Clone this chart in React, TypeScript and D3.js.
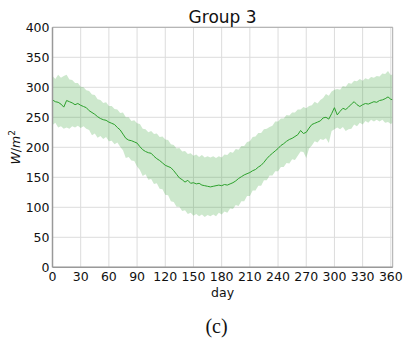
import React from "react";
import * as d3 from "d3";

const title = "Group 3";
const xTicks = [0, 30, 60, 90, 120, 150, 180, 210, 240, 270, 300, 330, 360];
const yTicks = [0, 50, 100, 150, 200, 250, 300, 350, 400];

// sampled every 3 days, starting at day 0
const step = 3;
const meanVals = [
  279, 276, 275, 272, 267, 278, 276, 274, 271, 273,
  270, 268, 266, 261, 258, 255, 251, 248, 246, 245,
  242, 240, 238, 233, 229, 222, 215, 212, 211, 209,
  207, 201, 196, 193, 191, 190, 185, 181, 178, 174,
  170, 168, 166, 161, 155, 149, 146, 142, 145, 140,
  141, 139, 140, 137, 136, 135, 134, 135, 136, 137,
  136, 138, 137, 139, 141, 144, 148, 151, 154, 156,
  158, 161, 163, 167, 170, 175, 181, 186, 190, 194,
  198, 203, 206, 210, 213, 215, 218, 221, 228, 223,
  225, 232, 238, 240, 242, 244, 249, 250, 247, 256,
  266, 254, 260, 265, 263, 267, 272, 276, 271, 268,
  271, 273, 272, 274, 276, 275, 278, 279, 281, 284,
  280, 279,
];
const upperVals = [
  319, 314, 321, 316, 319, 321, 313, 312, 307, 307,
  301, 300, 295, 294, 288, 287, 280, 279, 274, 275,
  269, 269, 264, 263, 257, 258, 250, 250, 244, 245,
  240, 239, 231, 230, 225, 227, 222, 223, 217, 218,
  213, 212, 205, 204, 198, 199, 193, 194, 189, 190,
  186, 188, 184, 187, 183, 185, 183, 185, 182, 185,
  183, 188, 187, 192, 191, 197, 196, 202, 202, 209,
  210, 217, 218, 224, 224, 230, 231, 234, 236, 243,
  243, 248, 248, 254, 253, 258, 258, 263, 263, 267,
  265, 269, 270, 276, 273, 279, 282, 289, 286, 293,
  296, 297, 296, 302, 301, 307, 306, 311, 310, 314,
  311, 315, 313, 317, 316, 319, 318, 323, 322, 327,
  320, 323,
];
const lowerVals = [
  237, 241, 233, 235, 231, 233, 231, 235, 233, 236,
  232, 235, 231, 229, 220, 223, 216, 219, 214, 217,
  210, 211, 205, 208, 201, 195, 182, 184, 178, 177,
  168, 162, 152, 155, 146, 147, 139, 140, 131, 130,
  121, 120, 110, 109, 101, 101, 94, 95, 89, 91,
  86, 89, 85, 88, 84, 87, 85, 88, 85, 91,
  88, 93, 91, 98, 97, 104, 102, 110, 110, 119,
  119, 128, 128, 136, 136, 145, 145, 153, 153, 160,
  160, 167, 167, 174, 173, 180, 179, 186, 193, 192,
  182, 198, 203, 210, 208, 214, 212, 215, 207, 227,
  230, 233, 230, 234, 227, 230, 231, 238, 235, 241,
  238, 244, 241, 246, 243, 246, 243, 246, 241, 242,
  239, 242,
];

const W = 403;
const H = 342;
const M = { left: 52.5, right: 392.7, top: 27.3, bottom: 267.3 };
const GREEN = "#2ca02c";
const FONT = "DejaVu Sans, sans-serif";

export default function App() {
  const x = d3.scaleLinear().domain([0, 362]).range([M.left, M.right]);
  const y = d3.scaleLinear().domain([0, 400]).range([M.bottom, M.top]);

  const rows = meanVals.map((m, i) => ({
    d: i * step,
    m,
    hi: upperVals[i],
    lo: lowerVals[i],
  }));

  const area = d3
    .area<any>()
    .x((r) => x(r.d))
    .y0((r) => y(r.lo))
    .y1((r) => y(r.hi));
  const line = d3
    .line<any>()
    .x((r) => x(r.d))
    .y((r) => y(r.m));

  return (
    <svg
      width={W}
      height={H}
      style={{ position: "absolute", left: 0, top: 0, background: "#fff" }}
      fontFamily={FONT}
    >
      <defs>
        <clipPath id="plotclip">
          <rect x={M.left} y={M.top} width={M.right - M.left} height={M.bottom - M.top} />
        </clipPath>
      </defs>
      {xTicks.map((t) => (
        <line key={"gx" + t} x1={x(t)} x2={x(t)} y1={M.top} y2={M.bottom} stroke="#dcdcdc" strokeWidth={1} />
      ))}
      {yTicks.map((t) => (
        <line key={"gy" + t} x1={M.left} x2={M.right} y1={y(t)} y2={y(t)} stroke="#dcdcdc" strokeWidth={1} />
      ))}
      <g clipPath="url(#plotclip)">
        <path d={area(rows) || ""} fill={GREEN} fillOpacity={0.24} stroke="none" />
        <path d={line(rows) || ""} fill="none" stroke={GREEN} strokeWidth={1} />
      </g>
      <line x1={M.left} x2={M.right} y1={M.top} y2={M.top} stroke="#aaa" strokeWidth={1} />
      <line x1={M.right} x2={M.right} y1={M.top} y2={M.bottom} stroke="#aaa" strokeWidth={1} />
      <line x1={M.left} x2={M.left} y1={M.top} y2={M.bottom} stroke="#999" strokeWidth={1.5} />
      <line x1={M.left} x2={M.right} y1={M.bottom} y2={M.bottom} stroke="#999" strokeWidth={1.5} />
      {yTicks.map((t) => (
        <text key={"ty" + t} x={M.left - 3} y={y(t)} dy="0.35em" textAnchor="end" fontSize={12.5} fill="#111">
          {t}
        </text>
      ))}
      {xTicks.map((t) => (
        <text key={"tx" + t} x={x(t)} y={M.bottom + 14} textAnchor="middle" fontSize={12.5} fill="#111">
          {t}
        </text>
      ))}
      <text x={(M.left + M.right) / 2} y={297} textAnchor="middle" fontSize={12.5} fill="#111">
        day
      </text>
      <text
        transform={`translate(20, ${(M.top + M.bottom) / 2}) rotate(-90)`}
        textAnchor="middle"
        fontSize={12.5}
        fill="#111"
      >
        <tspan fontStyle="italic">W</tspan>
        <tspan>/</tspan>
        <tspan fontStyle="italic">m</tspan>
        <tspan fontSize={9} dy={-5}>2</tspan>
      </text>
      <text x={(M.left + M.right) / 2} y={23} textAnchor="middle" fontSize={17} fill="#111">
        {title}
      </text>
      <text x={216.5} y={333} textAnchor="middle" fontSize={20} fontFamily="Liberation Serif, Times New Roman, serif" fill="#111">
        (c)
      </text>
    </svg>
  );
}
